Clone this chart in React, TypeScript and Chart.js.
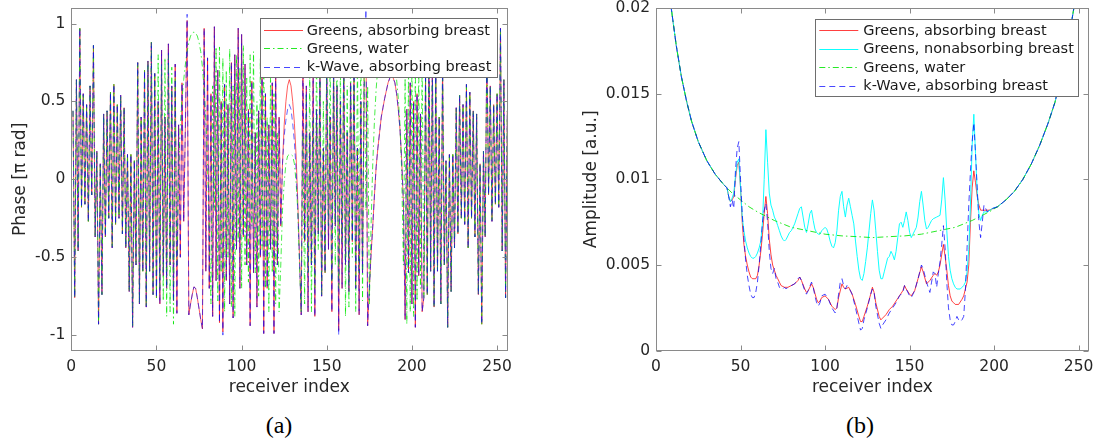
import React, { useEffect, useRef } from "react";
import { Chart, registerables } from "chart.js";

Chart.register(...registerables);

// ---------- (a) Phase ----------
const receiverIndex = Array.from({ length: 256 }, (_, i) => i + 1);

// receivers 1..50 (all three series coincide)
const phaseEdgeStart = [
  0.44, -0.76, 0.64, -0.46, 0.97, -0.18, 0.55, -0.16, 0.48, -0.27,
  0.60, -0.10, 0.86, -0.37, 0.18, -0.93, 0.10, -0.74, 0.42, -0.37,
  0.44, -0.25, 0.56, -0.44, 0.61, -0.29, 0.48, -0.25, 0.54, -0.35,
  0.46, -0.44, 0.16, -0.72, 0.16, -0.95, 0.12, -0.55, 0.75, -0.80,
  0.40, -0.59, 0.70, -0.82, 0.76, -0.59, 0.88, -0.74, 0.68, -0.76,
];
// receivers 207..256 (all three series coincide)
const phaseEdgeEnd = [
  -0.76, 0.68, -0.74, 0.88, -0.59, 0.76, -0.82, 0.70, -0.59, 0.40,
  -0.80, 0.75, -0.55, 0.12, -0.95, 0.16, -0.72, 0.16, -0.44, 0.46,
  -0.35, 0.54, -0.25, 0.48, -0.29, 0.61, -0.44, 0.56, -0.25, 0.44,
  -0.37, 0.42, -0.74, 0.10, -0.93, 0.18, -0.37, 0.86, -0.10, 0.60,
  -0.27, 0.48, -0.16, 0.55, -0.18, 0.97, -0.46, 0.64, -0.76, 0.44,
];
// receivers 51..206
const phaseGreensAbsMid = [
  0.50, -0.80, 0.83, -0.62, 0.40, -0.70, 0.87, -0.55, 0.60, -0.78,
  0.74, -0.86, 0.35, -0.50, 0.62, -0.27, 0.35, 1.02, -0.87, -0.80,
  -0.74, -0.69, -0.70, -0.76, -0.83, -0.90, -0.96, 0.97, -0.59, 0.78,
  -0.70, 0.55, -0.88, 0.98, -0.65, 0.70, -0.92, 0.50, -0.98, 0.61,
  -0.65, 0.48, -0.80, 0.75, -0.89, 0.80, -0.45, 0.97, -0.70, 0.93,
  -0.37, 0.74, -0.55, 0.45, -0.94, 0.63, -0.60, 0.30, -0.82, 0.44,
  -0.50, 0.75, -0.99, 0.55, -0.70, 0.35, -0.45, 0.62, -0.99, 0.70,
  -0.55, 0.40, -0.30, 0.10, 0.35, 0.50, 0.60, 0.64, 0.60, 0.50,
  0.36, 0.15, -0.15, -0.50, -0.87, 0.80, -0.40, 0.60, -0.85, 0.30,
  -0.55, 0.72, -0.88, 0.45, -0.35, 0.65, -0.75, 0.20, -0.60, 0.80,
  -0.45, 0.40, -0.85, 0.75, -0.30, 0.60, -0.97, 0.50, -0.70, 0.85,
  -0.55, 0.30, -0.72, 0.62, -0.40, 0.78, -0.70, 0.20, -0.87, 0.50,
  -0.60, 0.72, 0.98, -0.94, -0.70, -0.48, -0.30, -0.10, 0.08, 0.20,
  0.30, 0.40, 0.46, 0.52, 0.57, 0.62, 0.65, 0.66, 0.65, 0.62,
  0.55, 0.45, 0.32, 0.12, -0.15, -0.90, 0.45, -0.60, 0.62, -0.80,
  0.50, -0.95, 0.55, -0.62, 0.42, -0.85,
];
const phaseWaterMid = [
  0.80, -0.70, 0.74, -0.78, 0.78, -0.88, 0.80, -0.85, 0.72, -0.93,
  0.65, -0.55, 0.05, 0.35, 0.52, 0.64, 0.74, 0.82, 0.88, 0.92,
  0.94, 0.945, 0.94, 0.92, 0.88, 0.82, 0.72, 0.58, 0.38, 0.10,
  -0.30, -0.80, 0.60, -0.20, 0.85, -0.78, 0.85, -0.60, 0.78, -0.85,
  0.70, -0.50, 0.84, -0.82, 0.60, -0.88, 0.80, -0.40, 0.72, -0.70,
  0.86, -0.55, 0.65, -0.66, 0.80, -0.30, 0.82, -0.60, 0.50, -0.75,
  0.78, -0.45, 0.85, -0.70, 0.40, -0.85, 0.70, -0.60, 0.55, -0.80,
  0.30, -0.85, -0.55, -0.20, -0.02, 0.10, 0.15, 0.16, 0.16, 0.15,
  0.10, -0.02, -0.20, -0.55, -0.85, 0.30, -0.80, 0.55, -0.60, 0.70,
  -0.85, 0.40, -0.70, 0.85, -0.45, 0.78, -0.75, 0.50, -0.60, 0.82,
  -0.30, 0.80, -0.66, 0.65, -0.55, 0.86, -0.70, 0.72, -0.40, 0.80,
  -0.88, 0.60, -0.82, 0.84, -0.50, 0.70, -0.85, 0.78, -0.60, 0.85,
  -0.78, 0.85, -0.20, 0.60, -0.80, -0.30, 0.10, 0.38, 0.58, 0.72,
  0.82, 0.88, 0.92, 0.94, 0.945, 0.94, 0.92, 0.88, 0.82, 0.74,
  0.64, 0.52, 0.35, 0.05, -0.55, 0.65, -0.93, 0.72, -0.85, 0.80,
  -0.88, 0.78, -0.78, 0.74, -0.70, 0.80,
];
const phaseKWaveMid = [
  0.50, -0.80, 0.83, -0.62, 0.40, -0.70, 0.87, -0.55, 0.60, -0.78,
  0.74, -0.86, 0.35, -0.50, 0.62, -0.27, 0.35, 1.06, -0.87, -0.80,
  -0.74, -0.69, -0.70, -0.76, -0.83, -0.90, -0.96, 0.97, -0.59, 0.78,
  -0.70, 0.55, -0.88, 0.98, -0.65, 0.70, -0.92, 0.50, -1.00, 0.61,
  -0.65, 0.48, -0.80, 0.75, -0.89, 0.80, -0.45, 0.97, -0.70, 0.93,
  -0.37, 0.74, -0.55, 0.45, -0.94, 0.63, -0.60, 0.30, -0.82, 0.44,
  -0.50, 0.75, -0.99, 0.55, -0.70, 0.35, -0.45, 0.62, -0.99, 0.70,
  -0.55, 0.40, -0.30, 0.10, 0.28, 0.38, 0.45, 0.48, 0.45, 0.36,
  0.24, 0.06, -0.20, -0.52, -0.87, 0.80, -0.40, 0.60, -0.85, 0.30,
  -0.55, 0.72, -0.88, 0.45, -0.35, 0.65, -0.75, 0.20, -0.60, 0.80,
  -0.45, 0.40, -0.85, 0.75, -0.30, 0.60, -1.00, 0.50, -0.70, 0.85,
  -0.55, 0.30, -0.72, 0.62, -0.40, 0.78, -0.70, 0.20, -0.87, 0.50,
  -0.60, 0.72, 1.09, -0.94, -0.70, -0.48, -0.30, -0.10, 0.08, 0.20,
  0.30, 0.40, 0.46, 0.52, 0.57, 0.62, 0.65, 0.66, 0.65, 0.62,
  0.55, 0.45, 0.32, 0.12, -0.15, -0.90, 0.45, -0.60, 0.62, -0.80,
  0.50, -0.95, 0.55, -0.62, 0.42, -0.85,
];

const phaseXTicks = [0, 50, 100, 150, 200, 250];
const phaseYTicks = [-1, -0.5, 0, 0.5, 1];
const phaseYLabels = ["-1", "-0.5", "0", "0.5", "1"];

// ---------- (b) Amplitude: [receiver index, amplitude] ----------
const ampWater: [number, number][] = [
  [1, 0.030], [3, 0.026], [5, 0.0235], [7, 0.0215], [9, 0.0200], [12, 0.0178], [15, 0.0160],
  [18, 0.0146], [21, 0.0134], [25, 0.0122], [30, 0.0111], [35, 0.0103], [40, 0.0097],
  [45, 0.0092], [50, 0.0088], [55, 0.0084], [60, 0.0081], [70, 0.0076], [80, 0.0072],
  [90, 0.0070], [100, 0.0068], [110, 0.0067], [120, 0.00665], [128, 0.0066], [137, 0.00665],
  [147, 0.0067], [157, 0.0068], [167, 0.0070], [177, 0.0072], [187, 0.0076], [197, 0.0081],
  [202, 0.0084], [207, 0.0088], [212, 0.0093], [217, 0.0100], [222, 0.0109], [227, 0.0120],
  [232, 0.0133], [236, 0.0145], [240, 0.0162], [243, 0.0178], [246, 0.0193], [248, 0.0205],
  [250, 0.022], [253, 0.025], [256, 0.029],
];
const ampGreensAbs: [number, number][] = [
  [1, 0.030], [3, 0.026], [5, 0.0235], [7, 0.0215], [9, 0.0200], [12, 0.0178], [15, 0.0160],
  [18, 0.0146], [21, 0.0134], [25, 0.0122], [30, 0.0111], [35, 0.0103], [40, 0.0097], [42, 0.0095],
  [43, 0.0090], [44, 0.0087], [45, 0.0088], [46, 0.0090], [47, 0.0100], [48, 0.0108], [49, 0.0110],
  [50, 0.0095], [51, 0.0075], [52, 0.0062], [53, 0.0055], [54, 0.0050], [55, 0.0046], [56, 0.0043],
  [57, 0.0042], [58, 0.0042], [59, 0.0042], [60, 0.0044], [61, 0.0050], [62, 0.0058], [63, 0.0068],
  [64, 0.0080], [65, 0.0090], [66, 0.0080], [67, 0.0065], [68, 0.0056], [69, 0.0050], [70, 0.0047],
  [71, 0.0044], [72, 0.0042], [73, 0.0040], [74, 0.0038], [76, 0.0037], [78, 0.0037], [80, 0.0038],
  [82, 0.0039], [84, 0.0041], [85, 0.0043], [86, 0.0041], [88, 0.0036], [89, 0.0034], [90, 0.0035],
  [92, 0.0039], [93, 0.0037], [95, 0.0030], [96, 0.0028], [97, 0.0029], [98, 0.0031], [100, 0.0032],
  [102, 0.0030], [104, 0.0026], [106, 0.0024], [107, 0.0025], [108, 0.0031], [110, 0.0039],
  [111, 0.0037], [112, 0.0036], [114, 0.0037], [116, 0.0033], [118, 0.0027], [120, 0.0020],
  [121, 0.0017], [122, 0.0017], [123, 0.0020], [125, 0.0026], [127, 0.0033], [128, 0.0037],
  [129, 0.0034], [130, 0.0028], [132, 0.0020], [133, 0.0018], [134, 0.0019], [136, 0.0021],
  [138, 0.0024], [140, 0.0026], [142, 0.0029], [144, 0.0032], [146, 0.0035], [147, 0.0038],
  [148, 0.0036], [150, 0.0033], [151, 0.0032], [153, 0.0035], [155, 0.0042], [157, 0.0049],
  [158, 0.0046], [160, 0.0039], [162, 0.0041], [164, 0.0044], [165, 0.0045], [166, 0.0044],
  [167, 0.0046], [168, 0.0050], [169, 0.0056], [170, 0.0062], [171, 0.0055], [172, 0.0047],
  [173, 0.0038], [174, 0.0032], [175, 0.0029], [176, 0.0028], [177, 0.0027], [179, 0.0027],
  [181, 0.0030], [182, 0.0032], [183, 0.0036], [184, 0.0040], [185, 0.0050], [186, 0.0075],
  [187, 0.0095], [188, 0.0105], [189, 0.0098], [190, 0.0090], [191, 0.0085], [192, 0.0082],
  [194, 0.0082], [197, 0.0082], [202, 0.0084], [207, 0.0088], [212, 0.0093], [217, 0.0100],
  [222, 0.0109], [227, 0.0120], [232, 0.0133], [236, 0.0145], [240, 0.0162], [243, 0.0178],
  [246, 0.0193], [248, 0.0205], [250, 0.022], [253, 0.025], [256, 0.029],
];
const ampGreensNonAbs: [number, number][] = [
  [1, 0.030], [3, 0.026], [5, 0.0235], [7, 0.0215], [9, 0.0200], [12, 0.0178], [15, 0.0160],
  [18, 0.0146], [21, 0.0134], [25, 0.0122], [30, 0.0111], [35, 0.0103], [40, 0.0097], [42, 0.0095],
  [43, 0.0090], [44, 0.0087], [45, 0.0089], [46, 0.0092], [47, 0.0102], [48, 0.0110], [49, 0.0112],
  [50, 0.0095], [51, 0.0078], [52, 0.0070], [53, 0.0064], [54, 0.0060], [55, 0.0057], [56, 0.0055],
  [57, 0.0054], [58, 0.0054], [59, 0.0055], [60, 0.0057], [61, 0.0060], [62, 0.0064], [63, 0.0075],
  [64, 0.0100], [65, 0.0129], [66, 0.0110], [67, 0.0092], [68, 0.0085], [69, 0.0082], [70, 0.0078],
  [71, 0.0076], [72, 0.0073], [73, 0.0070], [74, 0.0067], [75, 0.0065], [76, 0.0064], [77, 0.0065],
  [78, 0.0067], [79, 0.0069], [80, 0.0070], [82, 0.0074], [84, 0.0080], [85, 0.0083], [86, 0.0084],
  [87, 0.0078], [88, 0.0072], [89, 0.0069], [90, 0.0074], [91, 0.0080], [92, 0.0082], [93, 0.0076],
  [94, 0.0071], [95, 0.0069], [96, 0.0068], [97, 0.0068], [98, 0.0070], [100, 0.0072], [101, 0.0071],
  [102, 0.0068], [103, 0.0064], [104, 0.0061], [105, 0.0060], [106, 0.0063], [107, 0.0070],
  [108, 0.0082], [109, 0.0090], [110, 0.0093], [111, 0.0084], [112, 0.0078], [113, 0.0085],
  [114, 0.0089], [115, 0.0084], [116, 0.0079], [117, 0.0074], [118, 0.0064], [119, 0.0055],
  [120, 0.0047], [121, 0.0042], [122, 0.0041], [123, 0.0045], [124, 0.0052], [125, 0.0060],
  [126, 0.0070], [127, 0.0080], [128, 0.0088], [129, 0.0082], [130, 0.0070], [131, 0.0058],
  [132, 0.0047], [133, 0.0042], [134, 0.0042], [135, 0.0046], [136, 0.0050], [137, 0.0054],
  [138, 0.0055], [139, 0.0058], [140, 0.0056], [141, 0.0053], [142, 0.0058], [143, 0.0066],
  [144, 0.0074], [145, 0.0075], [146, 0.0072], [147, 0.0076], [148, 0.0081], [149, 0.0076],
  [150, 0.0069], [151, 0.0066], [152, 0.0068], [153, 0.0070], [154, 0.0072], [155, 0.0078],
  [156, 0.0087], [157, 0.0093], [158, 0.0085], [159, 0.0076], [160, 0.0071], [161, 0.0072],
  [162, 0.0074], [163, 0.0076], [164, 0.0077], [166, 0.0078], [168, 0.0079], [169, 0.0088],
  [170, 0.0101], [171, 0.0088], [172, 0.0070], [173, 0.0055], [174, 0.0047], [175, 0.0042],
  [176, 0.0039], [177, 0.0037], [178, 0.0036], [180, 0.0036], [181, 0.0037], [182, 0.0038],
  [183, 0.0040], [184, 0.0046], [185, 0.0059], [186, 0.0085], [187, 0.0120], [188, 0.0138],
  [189, 0.0115], [190, 0.0092], [191, 0.0080], [192, 0.0076], [193, 0.0079], [194, 0.0081],
  [196, 0.0081], [199, 0.0083], [202, 0.0084], [207, 0.0088], [212, 0.0093], [217, 0.0100],
  [222, 0.0109], [227, 0.0120], [232, 0.0133], [236, 0.0145], [240, 0.0162], [243, 0.0178],
  [246, 0.0193], [248, 0.0205], [250, 0.022], [253, 0.025], [256, 0.029],
];
const ampKWaveAbs: [number, number][] = [
  [1, 0.030], [3, 0.026], [5, 0.0235], [7, 0.0215], [9, 0.0200], [12, 0.0178], [15, 0.0160],
  [18, 0.0146], [21, 0.0134], [25, 0.0122], [30, 0.0111], [35, 0.0103], [40, 0.0097], [42, 0.0095],
  [43, 0.0090], [44, 0.0084], [45, 0.0088], [46, 0.0083], [47, 0.0105], [48, 0.0118], [49, 0.0122],
  [50, 0.0100], [51, 0.0080], [52, 0.0066], [53, 0.0053], [54, 0.0044], [55, 0.0038], [56, 0.0033],
  [57, 0.0031], [58, 0.0031], [59, 0.0034], [60, 0.0040], [61, 0.0050], [62, 0.0062], [63, 0.0075],
  [64, 0.0082], [65, 0.0086], [66, 0.0075], [67, 0.0058], [68, 0.0048], [69, 0.0045], [70, 0.0048],
  [71, 0.0042], [72, 0.0040], [73, 0.0037], [74, 0.0036], [75, 0.0036], [76, 0.0037], [77, 0.0036],
  [78, 0.0037], [80, 0.0038], [82, 0.0039], [84, 0.0042], [85, 0.0043], [86, 0.0041], [87, 0.0038],
  [88, 0.0035], [89, 0.0033], [90, 0.0035], [92, 0.0040], [93, 0.0037], [94, 0.0032], [95, 0.0028],
  [96, 0.0026], [97, 0.0028], [98, 0.0032], [100, 0.0033], [102, 0.0030], [104, 0.0025],
  [106, 0.0022], [107, 0.0025], [108, 0.0033], [109, 0.0040], [110, 0.0042], [111, 0.0038],
  [112, 0.0036], [113, 0.0038], [114, 0.0037], [116, 0.0033], [118, 0.0025], [120, 0.0016],
  [121, 0.0012], [122, 0.0013], [123, 0.0018], [125, 0.0025], [127, 0.0033], [128, 0.0036],
  [129, 0.0034], [130, 0.0026], [132, 0.0016], [133, 0.0013], [134, 0.0015], [136, 0.0018],
  [138, 0.0022], [140, 0.0025], [142, 0.0028], [144, 0.0032], [146, 0.0034], [147, 0.0038],
  [148, 0.0036], [150, 0.0032], [151, 0.0031], [153, 0.0035], [155, 0.0042], [157, 0.0050],
  [158, 0.0048], [160, 0.0040], [162, 0.0034], [163, 0.0040], [164, 0.0046], [165, 0.0045],
  [166, 0.0037], [167, 0.0045], [168, 0.0052], [169, 0.0062], [170, 0.0073], [171, 0.0060],
  [172, 0.0040], [173, 0.0025], [174, 0.0018], [175, 0.0015], [176, 0.0015], [177, 0.0017],
  [178, 0.0020], [179, 0.0018], [180, 0.0017], [181, 0.0018], [182, 0.0020], [183, 0.0035],
  [184, 0.0060], [185, 0.0085], [186, 0.0105], [187, 0.0122], [188, 0.0133], [189, 0.0115],
  [190, 0.0095], [191, 0.0075], [192, 0.0066], [193, 0.0075], [194, 0.0085], [195, 0.0083],
  [196, 0.0081], [197, 0.0082], [199, 0.0083], [202, 0.0084], [207, 0.0088], [212, 0.0093],
  [217, 0.0100], [222, 0.0109], [227, 0.0120], [232, 0.0133], [236, 0.0145], [240, 0.0162],
  [243, 0.0178], [246, 0.0193], [248, 0.0205], [250, 0.022], [253, 0.025], [256, 0.029],
];

const ampXTicks = [0, 50, 100, 150, 200, 250];
const ampYTicks = [0, 0.005, 0.01, 0.015, 0.02];
const ampYLabels = ["0", "0.005", "0.01", "0.015", "0.02"];

// ---------- styling ----------
const FONT = "DejaVu Sans";
const TEXT = "#262626";
const FRAME = "#8a8a8a";
const RED = "rgba(255,0,0,0.75)";
const GREEN = "rgba(0,230,0,0.85)";
const BLUE = "rgba(0,0,255,0.72)";
const CYAN = "rgba(0,255,255,0.95)";
const DASH_DOT = [6, 3, 1.5, 3];
const DASHED = [6, 4];

type LegendItem = { label: string; color: string; dash: number[] };

function overlayPlugin(xTicks: number[], yTicks: number[], legend: {
  x: number; y: number; w: number; h: number; rows: number[]; sx0: number; sx1: number; tx: number; items: LegendItem[];
}) {
  return {
    id: "overlay",
    afterDraw(chart: any) {
      const { ctx, chartArea: a, scales } = chart;
      ctx.save();
      ctx.setLineDash([]);
      ctx.lineWidth = 1;
      ctx.strokeStyle = FRAME;
      const L = Math.floor(a.left) + 0.5;
      const R = Math.floor(a.right) + 0.5;
      const T = Math.floor(a.top) + 0.5;
      const B = Math.floor(a.bottom) + 0.5;
      ctx.strokeRect(L, T, R - L, B - T);
      ctx.beginPath();
      for (const v of xTicks) {
        const px = Math.round(scales.x.getPixelForValue(v)) + 0.5;
        ctx.moveTo(px, B); ctx.lineTo(px, B - 5);
        ctx.moveTo(px, T); ctx.lineTo(px, T + 5);
      }
      for (const v of yTicks) {
        const py = Math.round(scales.y.getPixelForValue(v)) + 0.5;
        ctx.moveTo(L, py); ctx.lineTo(L + 5, py);
        ctx.moveTo(R, py); ctx.lineTo(R - 5, py);
      }
      ctx.stroke();

      // legend box
      ctx.fillStyle = "#ffffff";
      ctx.fillRect(legend.x, legend.y, legend.w, legend.h);
      ctx.strokeStyle = "#6e6e6e";
      ctx.strokeRect(Math.floor(legend.x) + 0.5, Math.floor(legend.y) + 0.5, Math.round(legend.w), Math.round(legend.h));
      ctx.font = `14.5px "${FONT}"`;
      ctx.textBaseline = "middle";
      legend.items.forEach((it, i) => {
        const ry = Math.round(legend.rows[i]) + 0.5;
        ctx.strokeStyle = it.color;
        ctx.setLineDash(it.dash);
        ctx.beginPath();
        ctx.moveTo(legend.sx0, ry);
        ctx.lineTo(legend.sx1, ry);
        ctx.stroke();
        ctx.setLineDash([]);
        ctx.fillStyle = "#1a1a1a";
        ctx.fillText(it.label, legend.tx, legend.rows[i] + 1);
      });
      ctx.restore();
    },
  };
}

function axisCommon(opts: any) {
  return {
    type: "linear",
    min: opts.min,
    max: opts.max,
    grid: { display: false, drawTicks: false },
    border: { display: false },
    afterBuildTicks: (s: any) => {
      s.ticks = opts.ticks.map((v: number) => ({ value: v }));
    },
    ticks: {
      autoSkip: false,
      maxRotation: 0,
      padding: opts.tickPad,
      color: TEXT,
      font: { family: FONT, size: 15.5 },
      callback: (v: number, i: number) => opts.labels[i],
    },
    title: {
      display: true,
      text: opts.title,
      color: TEXT,
      font: { family: FONT, size: 17 },
      padding: opts.titlePad,
    },
    afterFit: opts.afterFit,
  };
}

function phaseDataset(label: string, values: number[], color: string, dash: number[], order: number) {
  return {
    label,
    data: receiverIndex.map((x, i) => ({ x, y: values[i] })),
    borderColor: color,
    borderWidth: 0.85,
    borderDash: dash,
    pointRadius: 0,
    tension: 0,
    fill: false,
    clip: 0,
    order,
  };
}

function ampDataset(label: string, pts: [number, number][], color: string, dash: number[], order: number) {
  return {
    label,
    data: pts.map(([x, y]) => ({ x, y })),
    borderColor: color,
    borderWidth: 1,
    borderDash: dash,
    pointRadius: 0,
    tension: 0,
    fill: false,
    clip: 0,
    order,
  };
}

function PhaseChart() {
  const ref = useRef<HTMLCanvasElement | null>(null);
  useEffect(() => {
    const greensAbs = [...phaseEdgeStart, ...phaseGreensAbsMid, ...phaseEdgeEnd];
    const water = [...phaseEdgeStart, ...phaseWaterMid, ...phaseEdgeEnd];
    const kwave = [...phaseEdgeStart, ...phaseKWaveMid, ...phaseEdgeEnd];
    const chart = new Chart(ref.current as HTMLCanvasElement, {
      type: "line",
      data: {
        datasets: [
          phaseDataset("Greens, absorbing breast", greensAbs, RED, [], 3),
          phaseDataset("Greens, water", water, GREEN, DASH_DOT, 2),
          phaseDataset("k-Wave, absorbing breast", kwave, BLUE, DASHED, 1),
        ] as any,
      },
      options: {
        animation: false,
        responsive: false,
        devicePixelRatio: 1,
        events: [],
        layout: { padding: { left: 0, top: 8, right: 37.7, bottom: 0 } },
        plugins: { legend: { display: false }, tooltip: { enabled: false } },
        scales: {
          x: axisCommon({
            min: 0, max: 256, ticks: phaseXTicks, labels: phaseXTicks.map(String), tickPad: 7,
            title: "receiver index", titlePad: { top: 0, bottom: 2 },
            afterFit: (s: any) => { s.height = 49.3; s.paddingLeft = 0; s.paddingRight = 0; },
          }),
          y: axisCommon({
            min: -1.1, max: 1.1, ticks: phaseYTicks, labels: phaseYLabels, tickPad: 6,
            title: "Phase [π rad]", titlePad: { top: 10.5, bottom: 0 },
            afterFit: (s: any) => { s.width = 71.3; s.paddingTop = 0; s.paddingBottom = 0; },
          }),
        } as any,
      },
      plugins: [
        overlayPlugin(phaseXTicks, phaseYTicks, {
          x: 260, y: 18.3, w: 237, h: 59, rows: [30, 48.3, 66.7], sx0: 264, sx1: 303, tx: 306.7,
          items: [
            { label: "Greens, absorbing breast", color: RED, dash: [] },
            { label: "Greens, water", color: GREEN, dash: DASH_DOT },
            { label: "k-Wave, absorbing breast", color: BLUE, dash: DASHED },
          ],
        }),
      ],
    } as any);
    return () => chart.destroy();
  }, []);
  return <canvas ref={ref} width={545} height={400} style={{ position: "absolute", left: 0, top: 0 }} />;
}

function AmplitudeChart() {
  const ref = useRef<HTMLCanvasElement | null>(null);
  useEffect(() => {
    const chart = new Chart(ref.current as HTMLCanvasElement, {
      type: "line",
      data: {
        datasets: [
          ampDataset("Greens, absorbing breast", ampGreensAbs, RED, [], 4),
          ampDataset("Greens, nonabsorbing breast", ampGreensNonAbs, CYAN, [], 3),
          ampDataset("Greens, water", ampWater, GREEN, DASH_DOT, 2),
          ampDataset("k-Wave, absorbing breast", ampKWaveAbs, BLUE, DASHED, 1),
        ] as any,
      },
      options: {
        animation: false,
        responsive: false,
        devicePixelRatio: 1,
        events: [],
        layout: { padding: { left: 0, top: 8, right: 5.2, bottom: 0 } },
        plugins: { legend: { display: false }, tooltip: { enabled: false } },
        scales: {
          x: axisCommon({
            min: 0, max: 256, ticks: ampXTicks, labels: ampXTicks.map(String), tickPad: 7,
            title: "receiver index", titlePad: { top: 0, bottom: 2 },
            afterFit: (s: any) => { s.height = 49.3; s.paddingLeft = 0; s.paddingRight = 0; },
          }),
          y: axisCommon({
            min: 0, max: 0.02, ticks: ampYTicks, labels: ampYLabels, tickPad: 6,
            title: "Amplitude [a.u.]", titlePad: { top: 36, bottom: 0 },
            afterFit: (s: any) => { s.width = 111; s.paddingTop = 0; s.paddingBottom = 0; },
          }),
        } as any,
      },
      plugins: [
        overlayPlugin(ampXTicks, ampYTicks, {
          x: 270.7, y: 19.3, w: 262.6, h: 77.4, rows: [30, 48.5, 67, 85.5], sx0: 274.3, sx1: 313.3, tx: 318.3,
          items: [
            { label: "Greens, absorbing breast", color: RED, dash: [] },
            { label: "Greens, nonabsorbing breast", color: CYAN, dash: [] },
            { label: "Greens, water", color: GREEN, dash: DASH_DOT },
            { label: "k-Wave, absorbing breast", color: BLUE, dash: DASHED },
          ],
        }),
      ],
    } as any);
    return () => chart.destroy();
  }, []);
  return <canvas ref={ref} width={549} height={400} style={{ position: "absolute", left: 545, top: 0 }} />;
}

export default function App() {
  const capStyle: React.CSSProperties = {
    position: "absolute",
    top: 410,
    width: 60,
    textAlign: "center",
    fontFamily: '"Liberation Serif", serif',
    fontSize: 24,
    lineHeight: "30px",
    color: "#000",
  };
  return (
    <div style={{ position: "absolute", left: 0, top: 0, width: 1094, height: 443, background: "#fff", overflow: "hidden" }}>
      <PhaseChart />
      <AmplitudeChart />
      <div style={{ ...capStyle, left: 249 }}>(a)</div>
      <div style={{ ...capStyle, left: 830 }}>(b)</div>
    </div>
  );
}
